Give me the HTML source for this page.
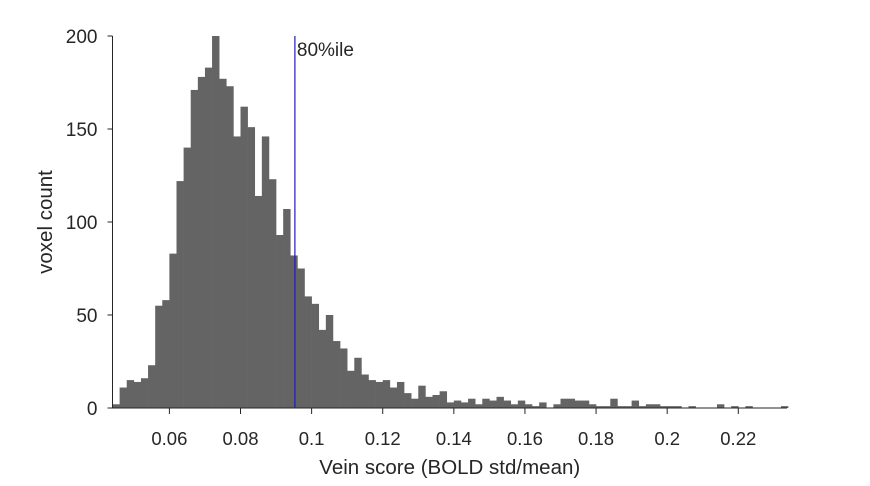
<!DOCTYPE html>
<html><head><meta charset="utf-8"><style>
body{margin:0;background:#fff;width:870px;height:481px;overflow:hidden}
text{font-family:"Liberation Sans",sans-serif;fill:#262626}
</style></head><body>
<svg id="chart" width="870" height="481" xmlns="http://www.w3.org/2000/svg"></svg>
<script>
const binStarts=[0.044,0.046,0.048,0.050,0.052,0.054,0.056,0.058,0.060,0.062,0.064,0.066,0.068,0.070,0.072,0.074,0.076,0.078,0.080,0.082,0.084,0.086,0.088,0.090,0.092,0.094,0.096,0.098,0.100,0.102,0.104,0.106,0.108,0.110,0.112,0.114,0.116,0.118,0.120,0.122,0.124,0.126,0.128,0.130,0.132,0.134,0.136,0.138,0.140,0.142,0.144,0.146,0.148,0.150,0.152,0.154,0.156,0.158,0.160,0.162,0.164,0.166,0.168,0.170,0.172,0.174,0.176,0.178,0.180,0.182,0.184,0.186,0.188,0.190,0.192,0.194,0.196,0.198,0.200,0.202,0.204,0.206,0.208,0.210,0.212,0.214,0.216,0.218,0.220,0.222,0.224,0.226,0.228,0.230,0.232];
const counts=[2,11,15,14,16,23,55,58,83,122,140,171,178,183,200,177,173,146,162,151,114,146,123,93,107,82,75,60,56,42,50,36,32,20,27,18,15,14,15,11,14,8,5,12,6,7,9,3,4,3,5,2,5,4,6,4,2,4,2,1,3,0,2,5,5,4,4,2,1,1,5,1,1,4,1,2,2,1,1,1,0,1,0,0,0,2,0,1,0,1,0,0,0,0,1];
const binWidth=0.002;
const xTicks=[0.06,0.08,0.1,0.12,0.14,0.16,0.18,0.2,0.22];
const xTickLabels=["0.06","0.08","0.1","0.12","0.14","0.16","0.18","0.2","0.22"];
const yTicks=[0,50,100,150,200];
const percentile80=0.0953;

const NS="http://www.w3.org/2000/svg";
const svg=document.getElementById('chart');
const xMin=0.044,xMax=0.2337,yMax=200;
const L=112.5,R=787,T=36,B=408;
const X=v=>L+(v-xMin)/(xMax-xMin)*(R-L);
const Y=c=>B-c/yMax*(B-T);
function mk(tag,attrs){const e=document.createElementNS(NS,tag);for(const k in attrs)e.setAttribute(k,attrs[k]);svg.appendChild(e);return e;}

counts.forEach((c,i)=>{
  if(c<=0)return;
  const x0=X(binStarts[i]),x1=X(binStarts[i]+binWidth);
  const r=mk('rect',{x:x0,y:Y(c),width:x1-x0+0.3,height:B-Y(c),fill:'#646464'});
  
  
});
let a=mk('line',{x1:L,y1:T,x2:L,y2:B,stroke:'#262626','stroke-width':1});


a=mk('line',{x1:L-5,y1:B,x2:R,y2:B,stroke:'#262626','stroke-width':1});


xTicks.forEach((v,i)=>{
  const x=X(v);
  const t=mk('line',{x1:x,y1:B,x2:x,y2:B+6,stroke:'#262626'});
  
  
  const l=mk('text',{x:x,y:B+37,'text-anchor':'middle','font-size':18.5});
  l.textContent=xTickLabels[i];
  
  
});
yTicks.forEach(v=>{
  const y=Y(v);
  const t=mk('line',{x1:L-5,y1:y,x2:L,y2:y,stroke:'#262626'});
  
  
  const l=mk('text',{x:L-15,y:y+7,'text-anchor':'end','font-size':19});
  l.textContent=String(v);
  
  
});
const px=X(percentile80);
let p=mk('line',{x1:px,y1:T,x2:px,y2:B,stroke:'#1a1acc','stroke-width':1.2});


p=mk('text',{x:px+2,y:56,'font-size':19,fill:'#000'});
p.textContent='80%ile';


let xt=mk('text',{x:(L+R)/2,y:474,'text-anchor':'middle','font-size':20.5});
xt.textContent='Vein score (BOLD std/mean)';


let yt=mk('text',{x:0,y:0,'text-anchor':'middle','font-size':20.5,transform:'translate(52,222) rotate(-90)'});
yt.textContent='voxel count';


</script>
</body></html>
